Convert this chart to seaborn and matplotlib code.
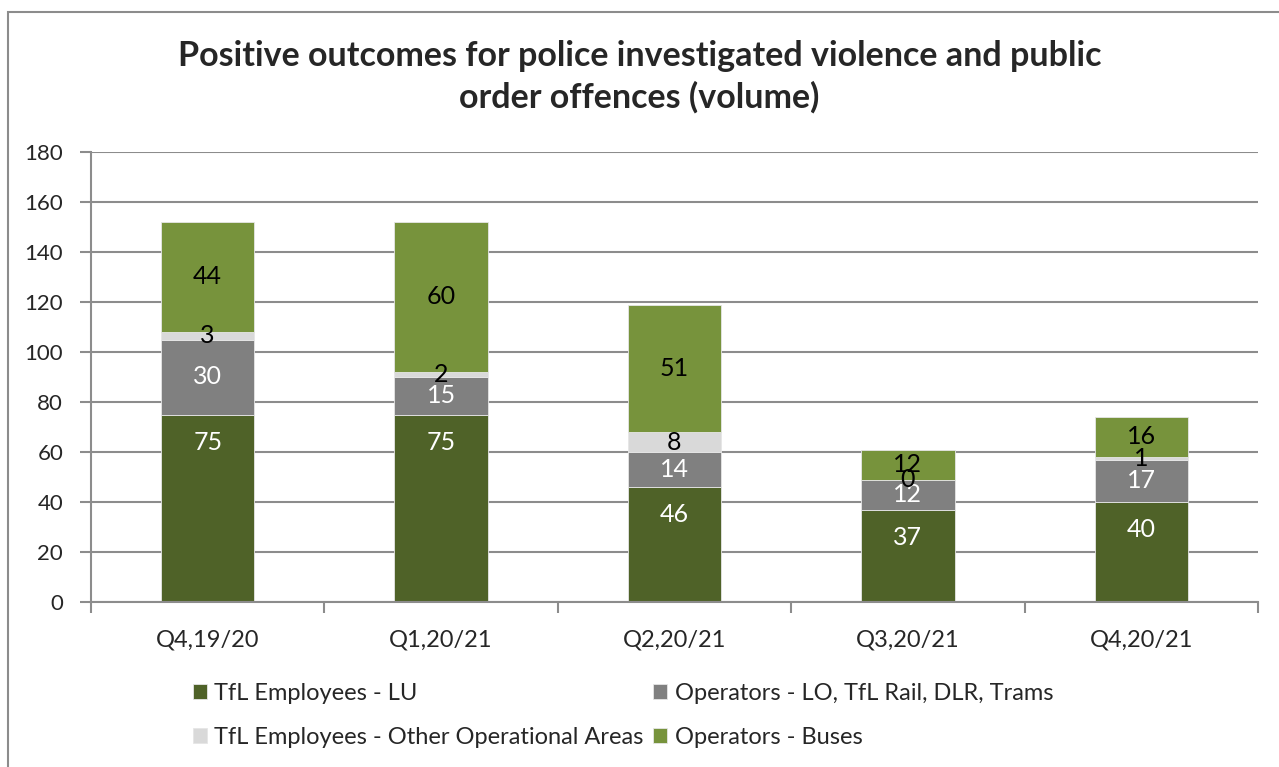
import matplotlib
matplotlib.use("Agg")
import matplotlib.pyplot as plt
from matplotlib.patches import Rectangle
import seaborn as sns
import pandas as pd
import numpy as np

# Quarterly volumes by group
quarters = ["Q4,19/20", "Q1,20/21", "Q2,20/21", "Q3,20/21", "Q4,20/21"]
lu_staff = [75, 75, 46, 37, 40]
rail_operators = [30, 15, 14, 12, 17]
other_staff = [3, 2, 8, 0, 1]
bus_operators = [44, 60, 51, 12, 16]

series_names = [
    "TfL Employees - LU",
    "Operators - LO, TfL Rail, DLR, Trams",
    "TfL Employees - Other Operational Areas",
    "Operators - Buses",
]
series_values = [lu_staff, rail_operators, other_staff, bus_operators]
colors = ["#4F6228", "#808080", "#D9D9D9", "#77933C"]
label_colors = ["white", "white", "black", "black"]
y_ticks = [0, 20, 40, 60, 80, 100, 120, 140, 160, 180]

sns.set_theme(style="white")
plt.rcParams["font.family"] = ["Lato", "DejaVu Sans"]

fig = plt.figure(figsize=(12.79, 7.67), dpi=100)
ax = fig.add_axes([91 / 1279, 1 - 602 / 767, (1258 - 91) / 1279, (602 - 152) / 767])

# Outer chart frame
fig.patches.append(Rectangle((8 / 1279, -0.05), 1.2, 1 - 12 / 767 + 0.05,
                             transform=fig.transFigure, fill=False,
                             edgecolor="#8C8C8C", linewidth=1.5, zorder=0))

ax.yaxis.grid(True, color="#8C8C8C", linewidth=1.5, zorder=0)
ax.set_axisbelow(True)

bottoms = np.zeros(len(quarters))
for k, (name, vals, col, lcol) in enumerate(zip(series_names, series_values, colors, label_colors)):
    df = pd.DataFrame({"quarter": quarters, "value": vals})
    sns.barplot(data=df, x="quarter", y="value", ax=ax, color=col, width=0.4,
                bottom=bottoms, label=name, edgecolor="#E6E6E6", linewidth=0.6,
                saturation=1, zorder=2)
    for i, v in enumerate(vals):
        if k == 0:
            # base series: label sits inside the top end of its bar
            ax.annotate(f"{v}", xy=(i, bottoms[i] + v), xytext=(0, -20),
                        textcoords="offset points", ha="center", va="center",
                        color=lcol, fontsize=18, zorder=3)
        else:
            ax.text(i, bottoms[i] + v / 2, f"{v}", ha="center", va="center",
                    color=lcol, fontsize=18, zorder=3)
    bottoms = bottoms + np.array(vals)

if ax.get_legend() is not None:
    ax.get_legend().remove()

ax.set_ylim(0, 180)
ax.set_xlim(-0.5, len(quarters) - 0.5)
ax.set_yticks(y_ticks)
ax.set_yticklabels([str(t) for t in y_ticks], fontsize=16)
ax.set_xlabel("")
ax.set_ylabel("")
ax.tick_params(axis="x", length=0, labelsize=17, pad=20)
ax.tick_params(axis="y", length=8, width=1.5, color="#8C8C8C", pad=12, left=True)
ax.tick_params(axis="x", which="minor", length=8, width=1.5, color="#8C8C8C", bottom=True)
ax.set_xticks(np.arange(-0.5, len(quarters)), minor=True)

for side in ["top", "right"]:
    ax.spines[side].set_visible(False)
for side in ["left", "bottom"]:
    ax.spines[side].set_color("#8C8C8C")
    ax.spines[side].set_linewidth(1.5)

fig.text(0.5, 1 - 77 / 767,
         "Positive outcomes for police investigated violence and public\norder offences (volume)",
         ha="center", va="center", fontsize=24.5, fontweight="bold", linespacing=1.32)

handles, labels = ax.get_legend_handles_labels()
order = [0, 2, 1, 3]
fig.legend([handles[i] for i in order], [labels[i] for i in order],
           loc="upper left", bbox_to_anchor=(172 / 1279, 1 - 662 / 767),
           ncol=2, frameon=False, fontsize=17, handlelength=0.6, handleheight=0.6,
           handletextpad=0.3, columnspacing=0.4, labelspacing=0.95)

fig.savefig("out.png", dpi=100)
